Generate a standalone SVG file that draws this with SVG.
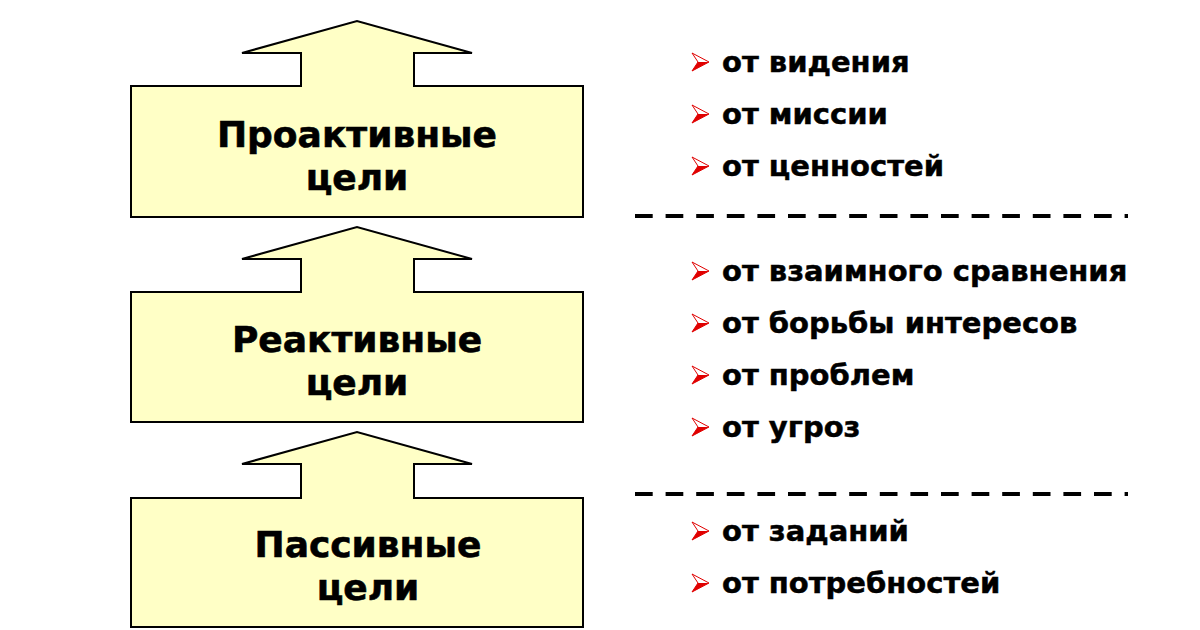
<svg xmlns="http://www.w3.org/2000/svg" width="1200" height="630" viewBox="0 0 1200 630">
<style>
.shape{fill:#ffffc6;stroke:#000;stroke-width:2;stroke-linejoin:miter}
.title{font-family:"DejaVu Sans","Verdana",sans-serif;font-weight:bold;font-size:36px;fill:#000;stroke:#000;stroke-width:0.6;text-anchor:middle}
.item{font-family:"DejaVu Sans","Verdana",sans-serif;font-weight:bold;font-size:29px;fill:#000;stroke:#000;stroke-width:0.5}
.dash{stroke:#000;stroke-width:4;stroke-dasharray:17.7 12.9;fill:none}
.bo{fill:#fff;stroke:#e00000;stroke-width:1}
.bf{fill:#e00000}
</style>
<defs>
<g id="bullet">
<polygon class="bo" points="0,-9 17,0 0,9 6,0"/>
<polygon class="bf" points="6,0 17,0 0,9"/>
</g>
</defs>
<g id="node-proactive">
<path class="shape" d="M131,86 H301 V53 H242 L357,21 L472,53 H414 V86 H583 V217 H131 Z"/>
<text class="title" x="357" y="147">Проактивные</text>
<text class="title" x="357" y="190">цели</text>
</g>
<g id="node-reactive">
<path class="shape" d="M131,292 H301 V259 H242 L357,227 L472,259 H414 V292 H583 V422 H131 Z"/>
<text class="title" x="357" y="352">Реактивные</text>
<text class="title" x="357" y="395">цели</text>
</g>
<g id="node-passive">
<path class="shape" d="M131,498 H301 V464 H242 L357,432 L472,464 H414 V498 H583 V627 H131 Z"/>
<text class="title" x="368" y="557">Пассивные</text>
<text class="title" x="368" y="600">цели</text>
</g>
<g id="separators">
<line class="dash" x1="635" y1="216" x2="1128" y2="216"/>
<line class="dash" x1="635" y1="494" x2="1128" y2="494"/>
</g>
<g id="list-proactive">
<use href="#bullet" x="692" y="62"/><text class="item" x="722" y="72">от видения</text>
<use href="#bullet" x="692" y="114"/><text class="item" x="722" y="124">от миссии</text>
<use href="#bullet" x="692" y="166"/><text class="item" x="722" y="176">от ценностей</text>
</g>
<g id="list-reactive">
<use href="#bullet" x="692" y="271"/><text class="item" x="722" y="281">от взаимного сравнения</text>
<use href="#bullet" x="692" y="323"/><text class="item" x="722" y="333">от борьбы интересов</text>
<use href="#bullet" x="692" y="375"/><text class="item" x="722" y="385">от проблем</text>
<use href="#bullet" x="692" y="427"/><text class="item" x="722" y="437">от угроз</text>
</g>
<g id="list-passive">
<use href="#bullet" x="692" y="531"/><text class="item" x="722" y="541">от заданий</text>
<use href="#bullet" x="692" y="583"/><text class="item" x="722" y="593">от потребностей</text>
</g>
</svg>
